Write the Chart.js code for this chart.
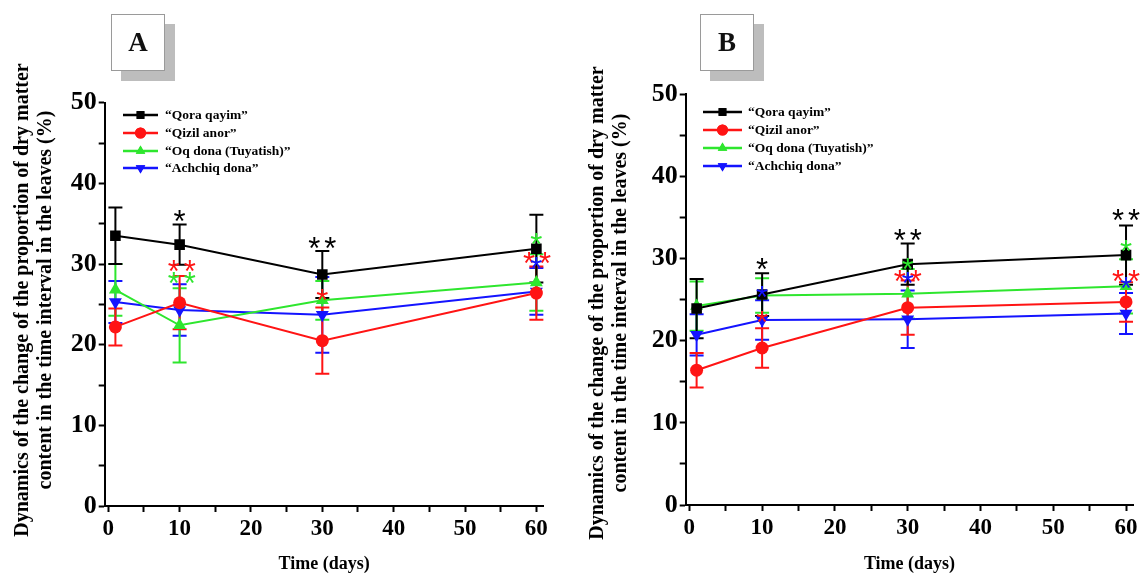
<!DOCTYPE html>
<html>
<head>
<meta charset="utf-8">
<script src="https://cdn.jsdelivr.net/npm/chart.js@4.4.1/dist/chart.umd.min.js"></script>
<style>
  html, body { margin:0; padding:0; background:#fff; }
  body { width:1141px; height:575px; position:relative; overflow:hidden; }
  canvas { position:absolute; top:0; }
  .lbl { position:absolute; width:52px; height:55px; background:#fff; border:1px solid #9a9a9a;
         box-shadow: 10px 10px 0 #bdbdbd; font-family:'Liberation Serif', serif; font-weight:bold;
         font-size:27px; line-height:55px; text-align:center; color:#111; }
</style>
</head>
<body>
<canvas id="cA" width="570" height="575" style="left:0px"></canvas>
<canvas id="cB" width="571" height="575" style="left:570px"></canvas>
<div class="lbl" style="left:111px; top:14px;">A</div>
<div class="lbl" style="left:700px; top:14px;">B</div>
<script>
// ---------- data ----------
const days = [1, 10, 30, 60];
const seriesNames = ['\u201cQora qayim\u201d', '\u201cQizil anor\u201d', '\u201cOq dona (Tuyatish)\u201d', '\u201cAchchiq dona\u201d'];
const xTicks = [0, 10, 20, 30, 40, 50, 60];
const yTicks = [0, 10, 20, 30, 40, 50];
const yTitle = ['Dynamics of the change of the proportion of dry matter', 'content in the time interval in the leaves (%)'];
const xTitle = 'Time (days)';

// Panel A
const aQora = [33.5, 32.4, 28.7, 31.9];
const aQoraErr = [3.5, 2.5, 2.9, 4.2];
const aQizil = [22.2, 25.2, 20.5, 26.4];
const aQizilErr = [2.3, 3.3, 4.1, 3.3];
const aOq = [26.8, 22.4, 25.5, 27.7];
const aOqErr = [3.2, 4.6, 2.4, 3.5];
const aAch = [25.3, 24.3, 23.7, 26.6];
const aAchErr = [2.6, 3.2, 4.7, 2.9];
// significance marks A: [day, y, text, series index]
const aSig = [[10, 36.2, '*', 0], [10.3, 30.0, '**', 1], [10.3, 28.5, '**', 2], [30, 32.9, '**', 0],
              [30, 26.4, '*', 1], [60, 33.4, '*', 2], [60.1, 31.0, '**', 1], [60, 30.4, '*', 3]];

// Panel B
const bQora = [23.9, 25.6, 29.3, 30.4];
const bQoraErr = [3.6, 2.6, 2.5, 3.6];
const bQizil = [16.4, 19.1, 24.0, 24.7];
const bQizilErr = [2.1, 2.4, 3.3, 2.4];
const bOq = [24.2, 25.5, 25.7, 26.6];
const bOqErr = [3.0, 2.1, 3.0, 3.3];
const bAch = [20.7, 22.5, 22.6, 23.3];
const bAchErr = [2.5, 2.4, 3.5, 2.5];
const bSig = [[10, 29.5, '*', 0], [10, 26.2, '*', 3], [10, 23.1, '*', 1], [30, 33.1, '**', 0],
              [30, 29.6, '*', 2], [30, 28.1, '**', 1], [30, 27.8, '*', 3], [60, 35.5, '**', 0],
              [60, 31.8, '*', 2], [60, 28.1, '**', 1], [60, 27.2, '*', 3]];

// ---------- styles ----------
const colors = ['#000000', '#ff1414', '#2ee62e', '#1414ff'];
const pStyles = ['rect', 'circle', 'triangle', 'triangle'];
const pRot = [0, 0, 0, 180];
const pRad = [7.5, 6.5, 7.5, 7.5];
const SERIF = "'Liberation Serif', 'Times New Roman', serif";

const customPlugin = {
  id: 'custom',
  beforeDatasetsDraw(chart) {
    const ctx = chart.ctx, xs = chart.scales.x, ys = chart.scales.y;
    ctx.save();
    ctx.lineWidth = 2;
    for (let i = chart.data.datasets.length - 1; i >= 0; i--) {
      const ds = chart.data.datasets[i];
      ctx.strokeStyle = ds.borderColor;
      ds.data.forEach((p, j) => {
        const e = ds.err[j];
        const px = xs.getPixelForValue(p.x);
        const t = ys.getPixelForValue(p.y + e), b = ys.getPixelForValue(p.y - e);
        ctx.beginPath();
        ctx.moveTo(px, t); ctx.lineTo(px, b);
        ctx.moveTo(px - 7, t); ctx.lineTo(px + 7, t);
        ctx.moveTo(px - 7, b); ctx.lineTo(px + 7, b);
        ctx.stroke();
      });
    }
    ctx.restore();
  },
  afterDatasetsDraw(chart, args, o) {
    const ctx = chart.ctx, xs = chart.scales.x, ys = chart.scales.y;
    ctx.save();
    const fs = 31;
    ctx.font = fs + "px 'Liberation Sans', Arial, sans-serif";
    ctx.textAlign = 'center';
    ctx.textBaseline = 'alphabetic';
    o.sig.forEach(s => {
      const px = xs.getPixelForValue(s[0]);
      const py = ys.getPixelForValue(s[1]);
      const n = s[2].length;
      ctx.fillStyle = colors[s[3]];
      for (let k = 0; k < n; k++) {
        const cx = px + (k - (n - 1) / 2) * 16;
        ctx.fillText('*', cx, py + 0.58 * fs);
      }
    });
    ctx.restore();
  },
  afterDraw(chart, args, o) {
    const ctx = chart.ctx;
    ctx.save();
    // legend
    const L = o.legend;
    chart.data.datasets.forEach((ds, i) => {
      const y = L.ys[i];
      ctx.strokeStyle = ds.borderColor;
      ctx.lineWidth = 2.5;
      ctx.beginPath(); ctx.moveTo(L.x0, y); ctx.lineTo(L.x1, y); ctx.stroke();
      ctx.fillStyle = ds.borderColor;
      Chart.helpers.drawPoint(ctx, { pointStyle: ds.pointStyle, rotation: ds.pointRotation, radius: 5.5, borderWidth: 0 },
                              (L.x0 + L.x1) / 2, y);
      ctx.fill();
      ctx.fillStyle = '#000';
      ctx.font = "bold 13.5px " + SERIF;
      ctx.textAlign = 'left';
      ctx.textBaseline = 'middle';
      ctx.fillText(ds.label, L.tx, y + 1);
    });
    // y title
    ctx.translate(o.yt.x1, o.yt.cy);
    ctx.rotate(-Math.PI / 2);
    ctx.fillStyle = '#000';
    ctx.font = "bold 20px " + SERIF;
    ctx.textAlign = 'center';
    ctx.textBaseline = 'middle';
    ctx.fillText(yTitle[0], 0, 0);
    ctx.fillText(yTitle[1], 0, o.yt.x2 - o.yt.x1);
    ctx.restore();
  }
};

function makeChart(id, vals, errs, sig, lay) {
  const datasets = vals.map((v, i) => ({
    label: seriesNames[i],
    data: days.map((d, j) => ({ x: d, y: v[j] })),
    err: errs[i],
    borderColor: colors[i],
    backgroundColor: colors[i],
    borderWidth: 2,
    pointStyle: pStyles[i],
    pointRotation: pRot[i],
    pointRadius: pRad[i],
    pointBorderWidth: 0,
    tension: 0,
    fill: false
  }));
  return new Chart(document.getElementById(id), {
    type: 'line',
    data: { datasets },
    plugins: [customPlugin],
    options: {
      responsive: false,
      animation: false,
      layout: { padding: { left: 0, right: lay.padR, top: lay.top, bottom: 0 } },
      plugins: {
        legend: { display: false },
        tooltip: { enabled: false },
        custom: { sig, legend: lay.legend, yt: lay.yt }
      },
      scales: {
        x: {
          type: 'linear', min: -0.5, max: 61,
          ticks: {
            stepSize: 5, includeBounds: false, autoSkip: false, maxRotation: 0, minRotation: 0,
            callback: v => (xTicks.includes(v) ? String(v) : ''),
            font: { family: SERIF, weight: 'bold', size: 23 }, color: '#000', padding: 3
          },
          grid: { drawOnChartArea: false, drawTicks: true, tickLength: 6, tickWidth: 2, tickColor: '#000' },
          border: { display: true, color: '#000', width: 2 },
          title: { display: true, text: xTitle, color: '#000', font: { family: SERIF, weight: 'bold', size: 18 }, padding: { top: 0, bottom: 0 } },
          afterFit: s => { s.height = lay.xh; }
        },
        y: {
          type: 'linear', min: 0, max: 50,
          ticks: {
            stepSize: 5, autoSkip: false,
            callback: v => (yTicks.includes(v) ? String(v) : ''),
            font: { family: SERIF, weight: 'bold', size: 26 }, color: '#000', padding: 2
          },
          grid: { drawOnChartArea: false, drawTicks: true, tickLength: 6, tickWidth: 2, tickColor: '#000' },
          border: { display: true, color: '#000', width: 2 },
          afterFit: s => { s.width = lay.yw; }
        }
      }
    }
  });
}

makeChart('cA', [aQora, aQizil, aOq, aAch], [aQoraErr, aQizilErr, aOqErr, aAchErr], aSig, {
  padR: 26.5, top: 102.7, xh: 69, yw: 104.7,
  legend: { x0: 123, x1: 158, tx: 165, ys: [115, 133, 151, 168] },
  yt: { x1: 23, x2: 46, cy: 300 }
});
makeChart('cB', [bQora, bQizil, bOq, bAch], [bQoraErr, bQizilErr, bOqErr, bAchErr], bSig, {
  padR: 7.7, top: 94, xh: 70, yw: 115.7,
  legend: { x0: 133, x1: 172, tx: 178, ys: [112, 130, 148, 166] },
  yt: { x1: 28, x2: 51, cy: 303 }
});
</script>
</body>
</html>
